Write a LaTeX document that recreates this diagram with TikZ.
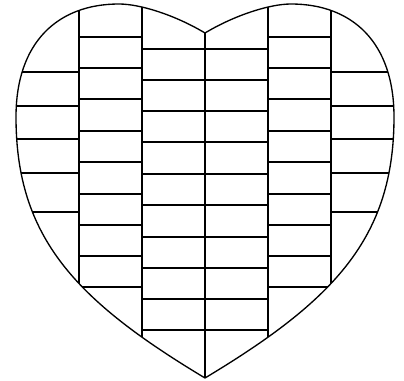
\documentclass[tikz,border=0pt]{standalone}
\begin{document}
\begin{tikzpicture}[x=0.75pt,y=-0.75pt,
  brick/.style={line width=0.8pt,black},
  outline/.style={line width=1pt,black,line join=round}]
\useasboundingbox (0,0) rectangle (404,381);
\begin{scope}
\clip (205,33) .. controls (175,15) and (140,4) .. (119,4)
  .. controls (58,4) and (16,42) .. (16,117)
  .. controls (16,237) and (75,300) .. (205,378)
  .. controls (335,300) and (394,237) .. (394,117)
  .. controls (394,42) and (352,4) .. (291,4)
  .. controls (270,4) and (235,15) .. (205,33) -- cycle;
% vertical lines
\foreach \vx in {79,142,205,268,331}
  \draw[brick] (\vx,0) -- (\vx,381);
% outer columns
\foreach \hy in {72,106,139,173,212}{
  \draw[brick] (0,\hy) -- (79,\hy);
  \draw[brick] (331,\hy) -- (404,\hy);
}
% second columns
\foreach \hy in {37,68,99,131,162,194,225,256,287}{
  \draw[brick] (79,\hy) -- (142,\hy);
  \draw[brick] (268,\hy) -- (331,\hy);
}
% middle columns
\foreach \hy in {49,80,111,142,174,205,237,268,299,330}{
  \draw[brick] (142,\hy) -- (268,\hy);
}
\end{scope}
\draw[outline] (205,33) .. controls (175,15) and (140,4) .. (119,4)
  .. controls (58,4) and (16,42) .. (16,117)
  .. controls (16,237) and (75,300) .. (205,378)
  .. controls (335,300) and (394,237) .. (394,117)
  .. controls (394,42) and (352,4) .. (291,4)
  .. controls (270,4) and (235,15) .. (205,33) -- cycle;
\end{tikzpicture}
\end{document}
